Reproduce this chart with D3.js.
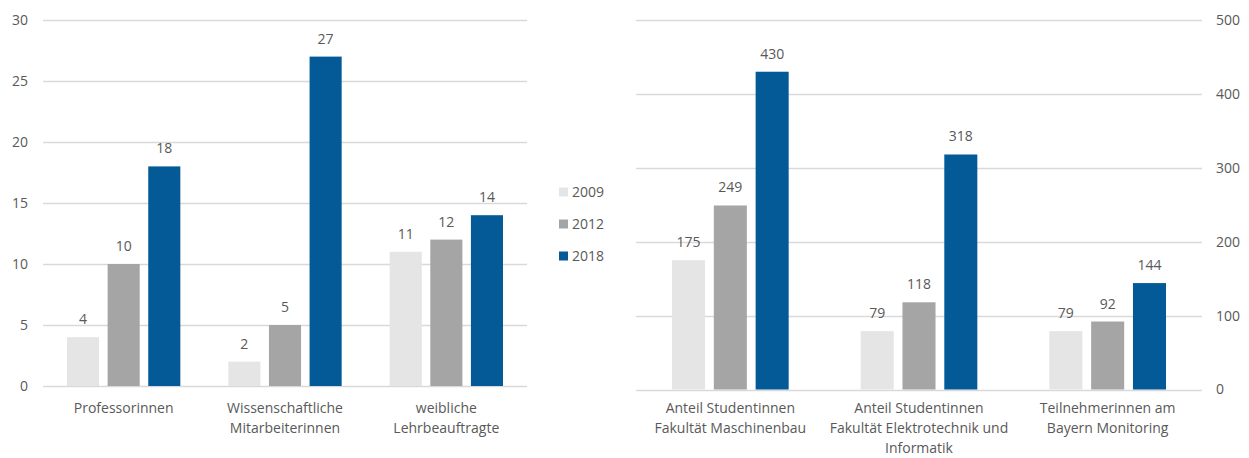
<!DOCTYPE html>
<html><head><meta charset="utf-8">
<script src="https://cdn.jsdelivr.net/npm/d3@7"></script>
<style>
html,body{margin:0;padding:0;background:#fff;}
svg{display:block;font-family:"Open Sans",sans-serif;}
</style></head>
<body><svg id="c" width="1249" height="458"></svg>
<script>
const years = ["2009","2012","2018"];
const colors = ["#e5e5e5","#a5a5a5","#035a96"];

const leftCategories = ["Professorinnen","Wissenschaftliche\nMitarbeiterinnen","weibliche\nLehrbeauftragte"];
const left2009 = [4,2,11];
const left2012 = [10,5,12];
const left2018 = [18,27,14];
const leftTicks = [0,5,10,15,20,25,30];

const rightCategories = ["Anteil Studentinnen\nFakultät Maschinenbau","Anteil Studentinnen\nFakultät Elektrotechnik und\nInformatik","Teilnehmerinnen am\nBayern Monitoring"];
const right2009 = [175,79,79];
const right2012 = [249,118,92];
const right2018 = [430,318,144];
const rightTicks = [0,100,200,300,400,500];

const svg = d3.select("#c");
const textColor = "#595959";
const fs = 14;

function drawChart(o){
  const g = svg.append("g");
  const y = d3.scaleLinear().domain([0,o.max]).range([o.y0,o.y1]);
  const x0 = d3.scaleBand().domain(o.cats).range([o.xL,o.xR]).padding(0);
  const x1 = d3.scaleBand().domain(years).range([o.pad, x0.bandwidth()-o.pad]).paddingInner(0.21);
  // gridlines
  g.selectAll("line.grid").data(o.ticks).join("line")
    .attr("x1",o.xL).attr("x2",o.xR)
    .attr("y1",d=>Math.round(y(d))+0.5).attr("y2",d=>Math.round(y(d))+0.5)
    .attr("stroke","#d9d9d9").attr("stroke-width",1.3);
  // axis
  const axis = (o.axisSide==="left"? d3.axisLeft(y) : d3.axisRight(y)).tickValues(o.ticks).tickSize(0).tickPadding(0);
  const ag = g.append("g").attr("transform",`translate(${o.axisX},0)`).call(axis);
  ag.select(".domain").remove();
  ag.selectAll("text").attr("fill",textColor).style("font-size",fs+"px").style("font-family","Open Sans");
  // bars
  const series = years.map((yr,i)=>({yr,i,vals:o.series[i]}));
  series.forEach(s=>{
    const sg = g.append("g");
    sg.selectAll("rect").data(o.cats.map((c,j)=>({c,v:s.vals[j]}))).join("rect")
      .attr("x",d=>x0(d.c)+x1(s.yr)).attr("width",x1.bandwidth())
      .attr("y",d=>y(d.v)).attr("height",d=>o.y0-y(d.v))
      .attr("fill",colors[s.i]);
    sg.selectAll("text").data(o.cats.map((c,j)=>({c,v:s.vals[j]}))).join("text")
      .attr("x",d=>x0(d.c)+x1(s.yr)+x1.bandwidth()/2).attr("y",d=>y(d.v)-13)
      .attr("text-anchor","middle").attr("fill",textColor).style("font-size",fs+"px")
      .text(d=>d.v);
  });
  // category labels
  o.cats.forEach(c=>{
    const t = g.append("text").attr("text-anchor","middle").attr("fill",textColor).style("font-size",fs+"px");
    c.split("\n").forEach((ln,k)=>{
      t.append("tspan").attr("x",x0(c)+x0.bandwidth()/2).attr("y",413+k*20).text(ln);
    });
  });
}

drawChart({cats:leftCategories,series:[left2009,left2012,left2018],max:30,ticks:leftTicks,
  y0:386,y1:20,xL:43,xR:527,pad:24,axisSide:"left",axisX:28});
drawChart({cats:rightCategories,series:[right2009,right2012,right2018],max:500,ticks:rightTicks,
  y0:389.5,y1:20,xL:636,xR:1202,pad:36,axisSide:"right",axisX:1216});

// legend
const lg = svg.append("g").attr("transform","translate(559,0)");
const ly = d3.scalePoint().domain(years).range([192,256]);
lg.selectAll("rect").data(years).join("rect")
  .attr("x",0).attr("y",d=>ly(d)-4.5).attr("width",9).attr("height",9)
  .attr("fill",(d,i)=>colors[i]);
lg.selectAll("text").data(years).join("text")
  .attr("x",13).attr("y",d=>ly(d)).attr("dy","0.35em")
  .attr("fill",textColor).style("font-size",fs+"px").text(d=>d);
</script></body></html>
